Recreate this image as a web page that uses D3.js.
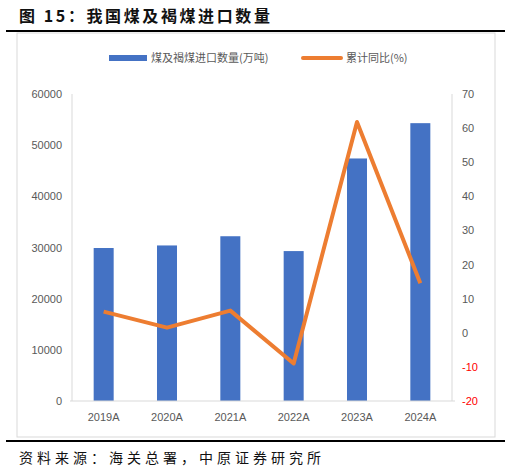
<!DOCTYPE html>
<html>
<head>
<meta charset="UTF-8">
<script src="https://cdn.jsdelivr.net/npm/d3@7"></script>
<style>body{margin:0;background:#fff}</style>
</head>
<body>
<svg id="chart" width="511" height="472"></svg>
<script>
const years = ['2019A', '2020A', '2021A', '2022A', '2023A', '2024A'];
const volume = [29900, 30400, 32200, 29300, 47400, 54300];
const yoy = [6.2, 1.5, 6.5, -9.0, 61.8, 14.5];
const leftTicks = [0, 10000, 20000, 30000, 40000, 50000, 60000];
const rightTicks = [-20, -10, 0, 10, 20, 30, 40, 50, 60, 70];

const svg = d3.select('#chart');
const font = 'Liberation Sans, Noto Sans CJK SC, sans-serif';
const cjk = 'Noto Sans CJK SC, sans-serif';

// title
svg.append('text').attr('x', 19).attr('y', 22).attr('font-family', cjk)
  .attr('font-weight', 'bold').attr('font-size', 16).attr('fill', '#111')
  .attr('letter-spacing', 2.6)
  .text('图 15：我国煤及褐煤进口数量');
svg.append('line').attr('x1', 6).attr('x2', 505).attr('y1', 31).attr('y2', 31)
  .attr('stroke', '#000').attr('stroke-width', 2);
svg.append('rect').attr('x', 17).attr('y', 33).attr('width', 478).attr('height', 404)
  .attr('fill', 'none').attr('stroke', '#d9d9d9');
svg.append('line').attr('x1', 6).attr('x2', 505).attr('y1', 441).attr('y2', 441)
  .attr('stroke', '#000').attr('stroke-width', 2);
svg.append('text').attr('x', 19).attr('y', 463).attr('font-family', cjk)
  .attr('font-size', 14).attr('fill', '#111').attr('letter-spacing', 4)
  .text('资料来源：海关总署，中原证券研究所');

const x = d3.scaleBand().domain(years).range([72, 452]);
const yL = d3.scaleLinear().domain([0, 60000]).range([401, 94]);
const yR = d3.scaleLinear().domain([-20, 70]).range([401, 94]);

// axes lines
svg.append('line').attr('x1', 72).attr('x2', 72).attr('y1', 94).attr('y2', 401).attr('stroke', '#d9d9d9');
svg.append('line').attr('x1', 452).attr('x2', 452).attr('y1', 94).attr('y2', 401).attr('stroke', '#d9d9d9');

svg.append('g').selectAll('text').data(leftTicks).join('text')
  .attr('x', 62).attr('y', d => yL(d) + 4).attr('text-anchor', 'end')
  .attr('font-family', font).attr('font-size', 11).attr('fill', '#595959').text(d => d);
svg.append('g').selectAll('text').data(rightTicks).join('text')
  .attr('x', 462).attr('y', d => yR(d) + 4)
  .attr('font-family', font).attr('font-size', 11)
  .attr('fill', d => d < 0 ? '#ff0000' : '#595959').text(d => d);

svg.append('g').selectAll('rect').data(volume).join('rect')
  .attr('x', (d, i) => x(years[i]) + x.bandwidth() / 2 - 10)
  .attr('width', 20).attr('y', d => yL(d)).attr('height', d => 401 - yL(d))
  .attr('fill', '#4472c4');

svg.append('line').attr('x1', 70).attr('x2', 455).attr('y1', 401).attr('y2', 401).attr('stroke', '#d9d9d9');

svg.append('g').selectAll('text').data(years).join('text')
  .attr('x', d => x(d) + x.bandwidth() / 2).attr('y', 421).attr('text-anchor', 'middle')
  .attr('font-family', font).attr('font-size', 11).attr('fill', '#595959').text(d => d);

const line = d3.line().x((d, i) => x(years[i]) + x.bandwidth() / 2).y(d => yR(d));
svg.append('path').datum(yoy).attr('d', line).attr('fill', 'none')
  .attr('stroke', '#ed7d31').attr('stroke-width', 4).attr('stroke-linejoin', 'round');

// legend
svg.append('rect').attr('x', 109).attr('y', 55).attr('width', 38).attr('height', 6).attr('fill', '#4472c4');
svg.append('text').attr('x', 151).attr('y', 62).attr('font-family', cjk).attr('font-size', 11)
  .attr('fill', '#595959').text('煤及褐煤进口数量(万吨)');
svg.append('line').attr('x1', 303).attr('x2', 341).attr('y1', 58).attr('y2', 58)
  .attr('stroke', '#ed7d31').attr('stroke-width', 4).attr('stroke-linecap', 'round');
svg.append('text').attr('x', 346).attr('y', 62).attr('font-family', cjk).attr('font-size', 11)
  .attr('fill', '#595959').text('累计同比(%)');
</script>
</body>
</html>
